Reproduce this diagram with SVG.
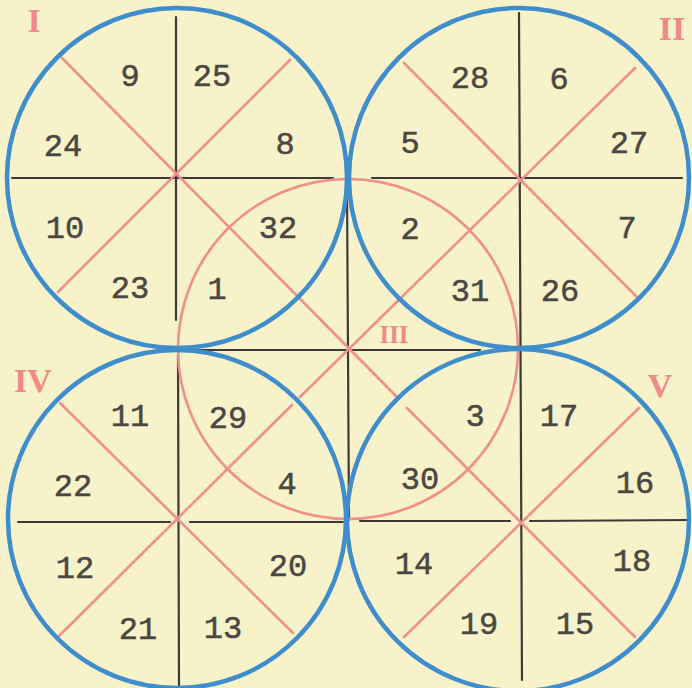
<svg xmlns="http://www.w3.org/2000/svg" width="692" height="688" viewBox="0 0 692 688">
<style>
.bg{fill:#f7f2c9}
.blk{stroke:#3e3a36;stroke-width:2.2;fill:none;stroke-linecap:round}
.pink{stroke:#f28e8c;stroke-width:2.6;fill:none;stroke-linecap:round}
.blue{stroke:#3f8dcb;stroke-width:4.5;fill:none}
.num{font-family:"Liberation Mono","DejaVu Sans Mono",monospace;font-size:32px;fill:#4a4743;stroke:#4a4743;stroke-width:0.5;text-anchor:middle}
.rom{font-family:"Liberation Serif","DejaVu Serif",serif;font-size:34px;font-weight:bold;fill:#f08a88;text-anchor:middle}
</style>
<rect class="bg" x="0" y="0" width="692" height="688"/>
<g id="connectors">
  <line class="blk" x1="12" y1="178" x2="333" y2="178"/>
  <line class="blk" x1="372" y1="178" x2="682" y2="178"/>
  <line class="blk" x1="190" y1="350" x2="480" y2="350"/>
  <line class="blk" x1="18" y1="522" x2="170" y2="522"/>
  <line class="blk" x1="190" y1="522" x2="343" y2="522"/>
  <line class="blk" x1="360" y1="521" x2="510" y2="521"/>
  <line class="blk" x1="530" y1="521" x2="689" y2="520"/>
  <line class="blk" x1="176" y1="17" x2="176" y2="320"/>
  <line class="blk" x1="178" y1="355" x2="179" y2="687"/>
  <line class="blk" x1="347" y1="186" x2="349" y2="520"/>
  <line class="blk" x1="519" y1="13" x2="522" y2="680"/>
  <line class="pink" x1="62" y1="58" x2="397" y2="397"/>
  <line class="pink" x1="407" y1="408" x2="635" y2="637"/>
  <line class="pink" x1="635" y1="68" x2="300" y2="397"/>
  <line class="pink" x1="292" y1="405" x2="58" y2="637"/>
  <line class="pink" x1="290" y1="60" x2="58" y2="292"/>
  <line class="pink" x1="404" y1="63" x2="637" y2="297"/>
  <line class="pink" x1="60" y1="403" x2="293" y2="633"/>
  <line class="pink" x1="639" y1="408" x2="404" y2="637"/>
</g>
<g id="circle-III">
  <circle class="pink" cx="348" cy="349" r="170"/>
  <text class="rom" x="394" y="343" style="font-size:25px">III</text>
</g>
<g id="circle-I">
  <circle class="blue" cx="177" cy="178" r="170"/>
  <text class="rom" x="34" y="32">I</text>
  <text class="num" x="130" y="86">9</text>
  <text class="num" x="212" y="86">25</text>
  <text class="num" x="63" y="156">24</text>
  <text class="num" x="285" y="154">8</text>
  <text class="num" x="65" y="238">10</text>
  <text class="num" x="278" y="238">32</text>
  <text class="num" x="130" y="298">23</text>
  <text class="num" x="217" y="299">1</text>
</g>
<g id="circle-II">
  <circle class="blue" cx="519" cy="178" r="170"/>
  <text class="rom" x="672" y="40">II</text>
  <text class="num" x="470" y="88">28</text>
  <text class="num" x="559" y="89">6</text>
  <text class="num" x="410" y="153">5</text>
  <text class="num" x="629" y="153">27</text>
  <text class="num" x="410" y="239">2</text>
  <text class="num" x="627" y="238">7</text>
  <text class="num" x="470" y="301">31</text>
  <text class="num" x="560" y="301">26</text>
</g>
<g id="circle-IV">
  <circle class="blue" cx="177" cy="519" r="169"/>
  <text class="rom" x="33" y="392">IV</text>
  <text class="num" x="130" y="426">11</text>
  <text class="num" x="228" y="428">29</text>
  <text class="num" x="73" y="496">22</text>
  <text class="num" x="287" y="494">4</text>
  <text class="num" x="75" y="578">12</text>
  <text class="num" x="288" y="576">20</text>
  <text class="num" x="138" y="639">21</text>
  <text class="num" x="223" y="638">13</text>
</g>
<g id="circle-V">
  <circle class="blue" cx="518" cy="520" r="171"/>
  <text class="rom" x="660" y="397">V</text>
  <text class="num" x="475" y="426">3</text>
  <text class="num" x="559" y="426">17</text>
  <text class="num" x="420" y="489">30</text>
  <text class="num" x="635" y="493">16</text>
  <text class="num" x="414" y="574">14</text>
  <text class="num" x="632" y="571">18</text>
  <text class="num" x="479" y="634">19</text>
  <text class="num" x="575" y="634">15</text>
</g>
</svg>
